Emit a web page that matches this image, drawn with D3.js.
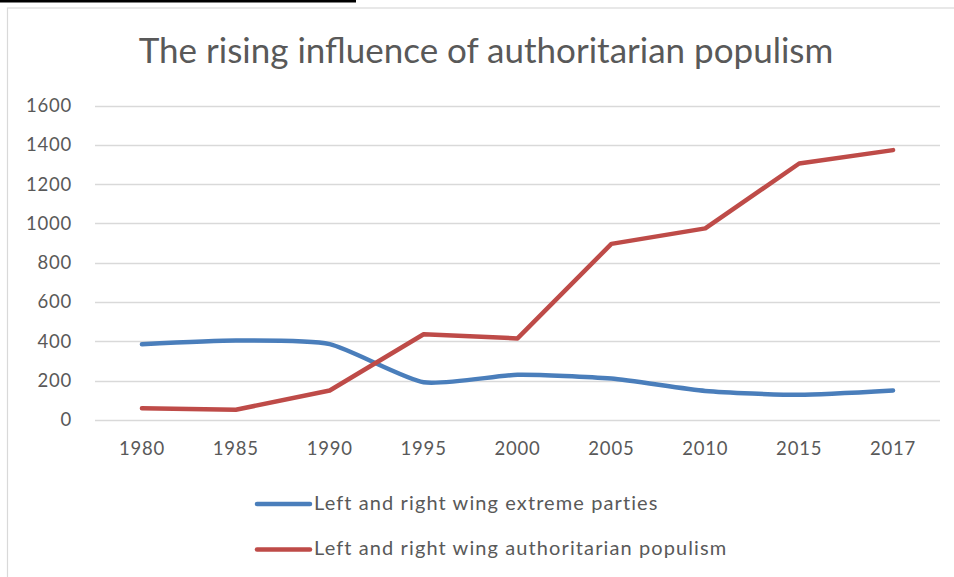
<!DOCTYPE html>
<html><head><meta charset="utf-8">
<script src="https://cdn.jsdelivr.net/npm/d3@7"></script>
<style>body{margin:0;background:#fff;}svg{display:block;font-family:Lato,"Open Sans",sans-serif;}</style>
</head><body>
<script>
const title = "The rising influence of authoritarian populism";
const years = ["1980","1985","1990","1995","2000","2005","2010","2015","2017"];
const seriesNames = ["Left and right wing extreme parties","Left and right wing authoritarian populism"];
const extremeParties = [385, 404, 386, 192, 230, 211, 148, 128, 150];
const authoritarianPopulism = [60, 52, 150, 436, 415, 896, 975, 1305, 1373];
const yTicks = [0,200,400,600,800,1000,1200,1400,1600];
const colors = ["#4A7EBB","#BE4B48"];

const W = 954, H = 577;
const svg = d3.select("body").append("svg").attr("width",W).attr("height",H);
svg.append("rect").attr("x",0).attr("y",0).attr("width",W).attr("height",H).attr("fill","#fff");
// top dark bar
svg.append("rect").attr("x",0).attr("y",0).attr("width",356).attr("height",2.5).attr("fill","#000");
// chart border
svg.append("rect").attr("x",7.5).attr("y",8).attr("width",W+10).attr("height",H+10)
  .attr("fill","none").attr("stroke","#d9d9d9").attr("stroke-width",1.2);

const x = d3.scaleBand().domain(years).range([95,940]);
const y = d3.scaleLinear().domain([0,1600]).range([420,105.5]);

svg.append("text").attr("x",486).attr("y",63).attr("text-anchor","middle")
  .attr("fill","#595959").style("font-size","35px").text(title);

// gridlines
svg.append("g").selectAll("line").data(yTicks).join("line")
  .attr("x1",95).attr("x2",940).attr("y1",d=>Math.round(y(d))+0.5).attr("y2",d=>Math.round(y(d))+0.5)
  .attr("stroke","#d9d9d9").attr("stroke-width",1.3);

const tickFont = sel => sel.attr("fill","#595959").style("font-size","18.5px")
  .style("letter-spacing","0.8px").style("font-family","Lato,'Open Sans',sans-serif");

// y axis labels
const ya = svg.append("g").attr("transform","translate(95,0)")
  .call(d3.axisLeft(y).tickValues(yTicks).tickSize(0).tickPadding(23).tickFormat(d3.format("d")));
ya.select(".domain").remove();
ya.selectAll("text").call(tickFont);

// x axis labels
const xa = svg.append("g").attr("transform","translate(0,420)")
  .call(d3.axisBottom(x).tickSize(0).tickPadding(22));
xa.select(".domain").remove();
xa.selectAll("text").call(tickFont);

const cx = d => x(d) + x.bandwidth()/2;
const data = [extremeParties, authoritarianPopulism];
const curves = [d3.curveCardinal.tension(0.4), d3.curveLinear];
data.forEach((vals,i)=>{
  const line = d3.line().x((d,j)=>cx(years[j])).y(d=>y(d)).curve(curves[i]);
  svg.append("path").attr("d",line(vals)).attr("fill","none").attr("stroke",colors[i])
    .attr("stroke-width",4.5).attr("stroke-linecap","round").attr("stroke-linejoin","round");
});

// legend
const lg = svg.append("g");
seriesNames.forEach((n,i)=>{
  const yy = 504 + i*45.5;
  lg.append("line").attr("x1",257).attr("x2",310).attr("y1",yy).attr("y2",yy)
    .attr("stroke",colors[i]).attr("stroke-width",4.5).attr("stroke-linecap","round");
  lg.append("text").attr("x",314).attr("y",yy+5.5).attr("fill","#595959")
    .style("font-size","20px").style("letter-spacing","1.1px").text(n);
});
</script>
</body></html>
